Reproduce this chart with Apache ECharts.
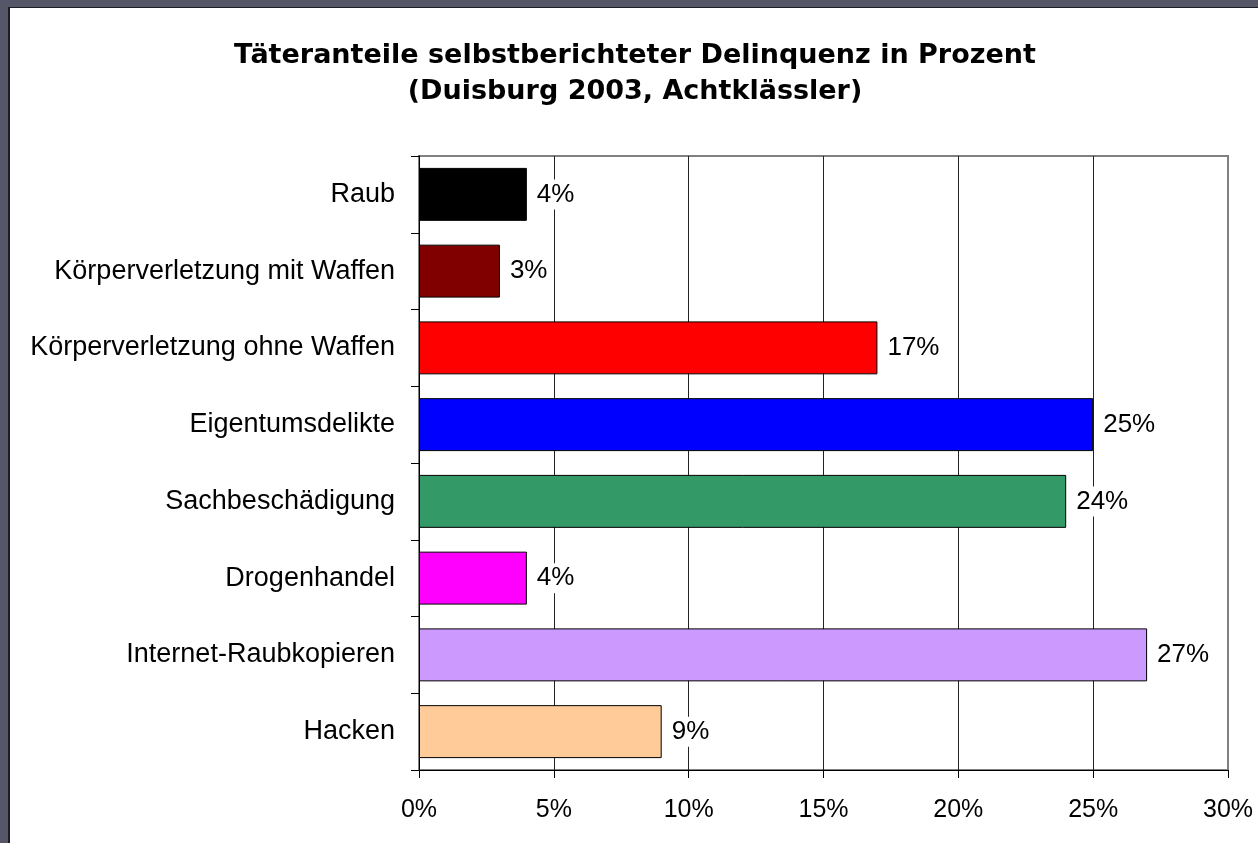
<!DOCTYPE html>
<html lang="de">
	<head>
		<meta charset="UTF-8">
		<title>Delinquenz</title>
		<style>
			html, body { margin: 0; padding: 0; background: #555768; overflow: hidden; }
			#frame {
				position: absolute; left: 8px; top: 7px;
				width: 1250px; height: 836px;
				border-left: 2px solid #1c1c22; border-top: 1px solid #1c1c22;
				background: #fff;
			}
			#chart { width: 1250px; height: 836px; }
		</style>
	</head>
	<body>
		<div id="frame"><div id="chart"></div></div>
		<script src="https://cdn.jsdelivr.net/npm/echarts@6/dist/echarts.min.js"></script>
		<script>
			// Daten
			var categories = ['Raub', 'Körperverletzung mit Waffen', 'Körperverletzung ohne Waffen',
				'Eigentumsdelikte', 'Sachbeschädigung', 'Drogenhandel', 'Internet-Raubkopieren', 'Hacken'];
			var values = [4, 3, 17, 25, 24, 4, 27, 9];
			var barColors = ['#000000', '#800000', '#ff0000', '#0000ff', '#339966', '#ff00ff', '#cc99ff', '#ffcc99'];
			var xTicks = [0, 5, 10, 15, 20, 25, 30];

			var font = "'Liberation Sans', Arial, sans-serif";
			var chart = echarts.init(document.getElementById('chart'));

			var option = {
				animation: false,
				title: {
					text: 'Täteranteile selbstberichteter Delinquenz in Prozent\n(Duisburg 2003, Achtklässler)',
					left: 'center',
					top: 25,
					padding: [5, 0, 5, 12], // Titel etwas nach rechts
					textStyle: {
						fontFamily: "'DejaVu Sans', sans-serif",
						fontSize: 27,
						fontWeight: 'bold',
						color: '#000',
						lineHeight: 36
					}
				},
				grid: {
					left: 409, right: 32, top: 148, bottom: 74,
					show: true,
					borderColor: '#808080',
					borderWidth: 2
				},
				xAxis: {
					type: 'value',
					min: xTicks[0],
					max: xTicks[xTicks.length - 1],
					interval: 5,
					axisLine: { show: true, lineStyle: { color: '#000', width: 1 } },
					axisTick: { show: true, length: 8, lineStyle: { color: '#000' } },
					axisLabel: {
						margin: 28,
						fontFamily: font, fontSize: 25, color: '#000',
						formatter: '{value}%'
					},
					splitLine: {
						show: true,
						showMaxLine: false,
						lineStyle: { color: '#222', width: 1 }
					}
				},
				yAxis: {
					type: 'category',
					inverse: true,
					data: categories,
					axisLine: { show: true, lineStyle: { color: '#000', width: 1 } },
					axisTick: { show: true, length: 8, lineStyle: { color: '#000' } },
					axisLabel: {
						margin: 24,
						fontFamily: font, fontSize: 27, color: '#000'
					}
				},
				series: [{
					type: 'bar',
					barCategoryGap: '31%',
					data: values.map(function (v, i) {
						return { value: v, itemStyle: { color: barColors[i] } };
					}),
					itemStyle: { borderColor: '#000', borderWidth: 1 },
					label: {
						show: true,
						position: 'right',
						distance: 7,
						formatter: '{c}%',
						fontFamily: font, fontSize: 26, color: '#000',
						backgroundColor: '#fff',
						padding: [2, 3]
					}
				}]
			};
			chart.setOption(option);
		</script>
	</body>
</html>
